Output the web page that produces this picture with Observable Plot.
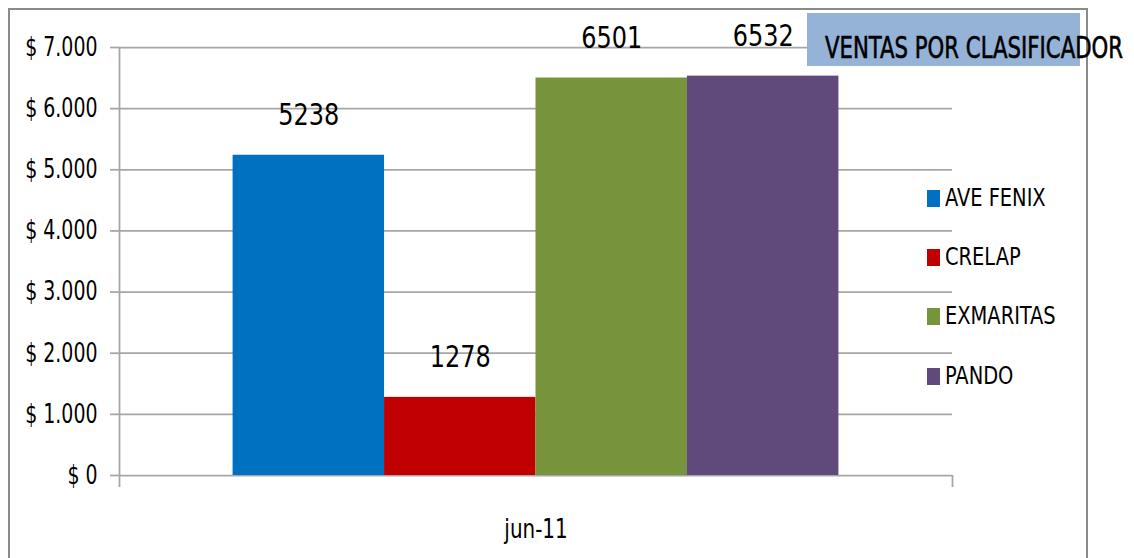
<!DOCTYPE html>
<html>
<head>
<meta charset="utf-8">
<script src="https://cdn.jsdelivr.net/npm/d3@7"></script>
<script src="https://cdn.jsdelivr.net/npm/@observablehq/plot@0.6"></script>
<style>
  body { margin: 0; background: #fff; }
  #wrap { position: relative; width: 1134px; height: 558px; overflow: hidden; background: #fff;
          font-family: "Liberation Sans Narrow", "DejaVu Sans Condensed", "Arial Narrow", sans-serif; }
  #wrap svg { position: absolute; left: 0; top: 0; }
  .border { position: absolute; left: 8px; top: 8px; width: 1080px; height: 600px;
            border: 2.5px solid #8a8a8a; box-sizing: border-box; }
  .titlebox { position: absolute; left: 807px; top: 13px; width: 273px; height: 53px; background: #95B3D7; }
  .title { position: absolute; left: 825px; top: 32px; font-size: 31px; line-height: 1; color: #000;
           display: inline-block; white-space: nowrap; transform-origin: left top;
           -webkit-text-stroke: 0.6px #000; }
  .lg-sw { position: absolute; width: 13px; height: 17px; }
  .lg-tx { position: absolute; font-size: 24px; line-height: 1; color: #000; white-space: nowrap;
           display: inline-block; transform-origin: left top; }
</style>
</head>
<body>
<div id="wrap"></div>
<script>
const categories = ["jun-11"];
const series = ["AVE FENIX", "CRELAP", "EXMARITAS", "PANDO"];
const values = [5238, 1278, 6501, 6532];
const colors = ["#0070C0", "#C00000", "#77933C", "#604A7B"];
const yTicks = [0, 1000, 2000, 3000, 4000, 5000, 6000, 7000];
const titleText = "VENTAS POR CLASIFICADOR";

const rows = series.map((s, i) => ({name: s, value: values[i], idx: i}));
const xDomain = [-0.75, series.length + 0.75];
const locale = d3.formatLocale({decimal: ",", thousands: ".", grouping: [3], currency: ["$ ", ""]});
const fmt = locale.format("$,.0f");
const font = '"Liberation Sans Narrow", "DejaVu Sans Condensed", "Arial Narrow", sans-serif';
const gridColor = "#a6a6a6";

const chart = Plot.plot({
  width: 1134,
  height: 558,
  marginLeft: 119,
  marginRight: 182,
  marginTop: 47,
  marginBottom: 83,
  style: {fontFamily: font, background: "transparent", color: "#000"},
  x: {type: "linear", domain: xDomain, axis: null},
  y: {domain: [0, 7000], axis: null, label: null},
  color: {domain: series, range: colors},
  marks: [
    Plot.ruleY(yTicks, {stroke: gridColor, strokeWidth: 1.75}),
    Plot.axisY(yTicks, {label: null, tickSize: 9, tickPadding: 13, tickFormat: fmt, fontSize: 26, stroke: gridColor, strokeWidth: 1.75}),
    Plot.ruleX([xDomain[0]], {stroke: gridColor, strokeWidth: 1.75, insetBottom: -12}),
    Plot.ruleX([xDomain[1]], {y1: 0, y2: 0, stroke: gridColor, strokeWidth: 1.75, insetBottom: -12}),
    Plot.rectY(rows, {x1: d => d.idx, x2: d => d.idx + 1, y1: 0, y2: "value", fill: "name"}),
    Plot.text(rows, {x: d => d.idx + 0.5, y: "value", text: d => String(d.value), lineAnchor: "bottom", dy: -30, fontSize: 31, fill: "#000"}),
    Plot.text(categories, {frameAnchor: "bottom", text: d => d, lineAnchor: "bottom", dy: 62, fontSize: 27, fill: "#000"})
  ]
});

// horizontally condense SVG texts to mimic the narrow original typeface
function condense(t, k) {
  const tr = t.getAttribute("transform");
  if (tr && !tr.includes("scale")) t.setAttribute("transform", tr + ` scale(${k},1)`);
}
chart.querySelectorAll("g[aria-label='y-axis tick label'] text").forEach(t => condense(t, 0.81));
const valueStrings = values.map(String);
chart.querySelectorAll("text").forEach(t => {
  if (valueStrings.includes(t.textContent)) condense(t, 0.86);
  if (categories.includes(t.textContent)) condense(t, 0.82);
});

const wrap = document.getElementById("wrap");
wrap.appendChild(chart);

const border = document.createElement("div");
border.className = "border";
wrap.appendChild(border);

const tb = document.createElement("div");
tb.className = "titlebox";
wrap.appendChild(tb);
const tt = document.createElement("div");
tt.className = "title";
tt.textContent = titleText;
wrap.appendChild(tt);
tt.style.transform = `scaleX(${298 / tt.offsetWidth})`;

series.forEach((s, i) => {
  const sw = document.createElement("div");
  sw.className = "lg-sw";
  sw.style.left = "927px";
  sw.style.top = (190 + i * 59.2) + "px";
  sw.style.background = colors[i];
  wrap.appendChild(sw);
  const tx = document.createElement("div");
  tx.className = "lg-tx";
  tx.style.left = "945px";
  tx.style.top = (186 + i * 59.2) + "px";
  tx.style.transform = "scaleX(0.9)";
  tx.textContent = s;
  wrap.appendChild(tx);
});
</script>
</body>
</html>
